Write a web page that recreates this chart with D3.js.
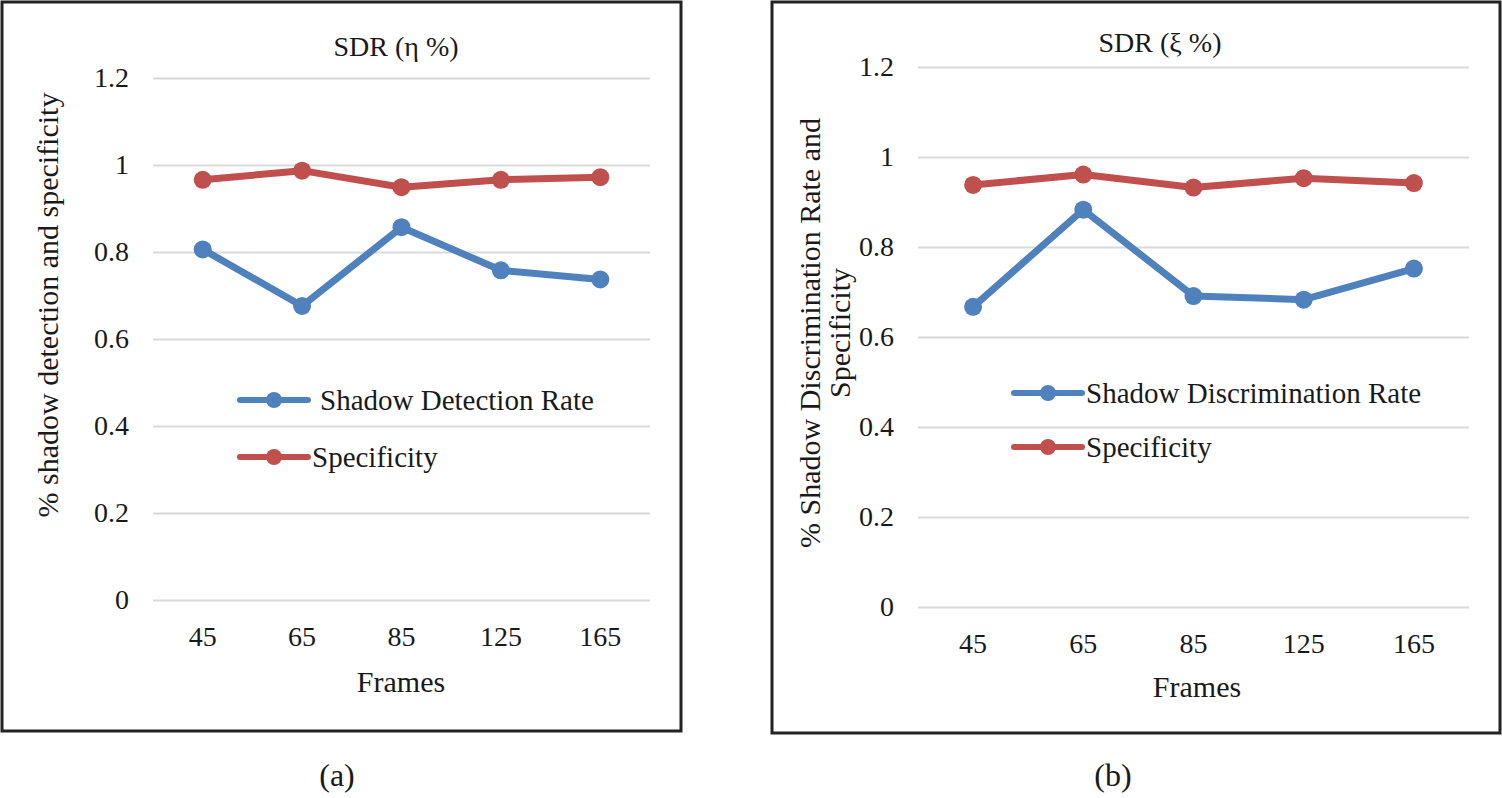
<!DOCTYPE html>
<html lang="en">
  <head>
    <meta charset="UTF-8" />
    <title>SDR charts</title>
    <script src="https://d3js.org/d3.v7.min.js"></script>
    <style>
      body { margin: 0; background: #fff; }
      svg text { font-family: "Liberation Serif", "Times New Roman", serif; fill: #1a1a1a; }
      .gridlines .domain, .ticks .domain { display: none; }
      .gridlines line { stroke: #d9d9d9; stroke-width: 2; }
    </style>
  </head>
  <body>
    <svg id="chart" width="1502" height="798"></svg>
    <script>
      // data
      const frames = ["45", "65", "85", "125", "165"];
      const yTicks = [0, 0.2, 0.4, 0.6, 0.8, 1, 1.2];

      const detectionRate = [0.806, 0.676, 0.857, 0.758, 0.737];
      const specificityA = [0.966, 0.987, 0.949, 0.966, 0.972];

      const discriminationRate = [0.667, 0.883, 0.691, 0.683, 0.752];
      const specificityB = [0.938, 0.961, 0.932, 0.953, 0.942];

      const blue = "#4f81bd";
      const red = "#c0504d";
      const serif = '"Liberation Serif", "Times New Roman", serif';

      const svg = d3.select("#chart");

      function drawPanel(cfg) {
        const g = svg.append("g");

        // frame of the panel
        g.append("rect")
          .attr("x", cfg.box[0])
          .attr("y", cfg.box[1])
          .attr("width", cfg.box[2] - cfg.box[0])
          .attr("height", cfg.box[3] - cfg.box[1])
          .attr("fill", "none")
          .attr("stroke", "#222")
          .attr("stroke-width", 3);

        const xScale = d3.scaleBand().domain(frames).range([cfg.left, cfg.right]);
        const yScale = d3.scaleLinear().domain([0, 1.2]).range([cfg.bottom, cfg.top]);
        const xMid = d => xScale(d) + xScale.bandwidth() / 2;

        g.append("g")
          .attr("class", "gridlines")
          .attr("transform", `translate(${cfg.left},0)`)
          .call(d3.axisLeft(yScale).tickValues(yTicks).tickSize(-(cfg.right - cfg.left)).tickFormat(""));

        g.append("g")
          .attr("class", "ticks")
          .attr("transform", `translate(${cfg.tickX},0)`)
          .call(d3.axisLeft(yScale).tickValues(yTicks).tickSize(0).tickPadding(0).tickFormat(d => String(d)))
          .call(a => a.selectAll("text").style("font-family", serif).style("font-size", "28px").attr("fill", "#1a1a1a"));

        g.append("g")
          .attr("class", "ticks")
          .attr("transform", `translate(0,${cfg.bottom})`)
          .call(d3.axisBottom(xScale).tickSize(0).tickPadding(cfg.xPad))
          .call(a => a.selectAll("text").style("font-family", serif).style("font-size", "28px").attr("fill", "#1a1a1a"));

        const line = d3.line().x((d, i) => xMid(frames[i])).y(d => yScale(d));

        cfg.series.forEach(s => {
          g.append("path")
            .datum(s.values)
            .attr("fill", "none")
            .attr("stroke", s.color)
            .attr("stroke-width", 7)
            .attr("stroke-linejoin", "round")
            .attr("d", line);

          g.selectAll(null)
            .data(s.values)
            .join("circle")
            .attr("cx", (d, i) => xMid(frames[i]))
            .attr("cy", d => yScale(d))
            .attr("r", 9)
            .attr("fill", s.color);
        });

        // legend
        cfg.series.forEach((s, i) => {
          const ly = cfg.legend.y[i];
          g.append("line")
            .attr("x1", cfg.legend.x).attr("x2", cfg.legend.x + 68)
            .attr("y1", ly).attr("y2", ly)
            .attr("stroke", s.color).attr("stroke-width", 6)
            .attr("stroke-linecap", "round");
          g.append("circle")
            .attr("cx", cfg.legend.x + 34).attr("cy", ly)
            .attr("r", 8).attr("fill", s.color);
          g.append("text")
            .attr("x", cfg.legend.textX[i])
            .attr("y", ly)
            .attr("dy", "0.35em")
            .style("font-family", serif)
            .style("font-size", "29px")
            .text(s.name);
        });

        g.append("text")
          .attr("x", cfg.title[0])
          .attr("y", cfg.title[1])
          .attr("text-anchor", "middle")
          .style("font-family", serif)
          .style("font-size", "28px")
          .text(cfg.titleText);

        g.append("text")
          .attr("x", cfg.xTitle[0])
          .attr("y", cfg.xTitle[1])
          .attr("text-anchor", "middle")
          .style("font-family", serif)
          .style("font-size", "30px")
          .text("Frames");

        const yt = g.append("text")
          .attr("transform", `translate(${cfg.yTitle[0]},${cfg.yTitle[1]}) rotate(-90)`)
          .attr("text-anchor", "middle")
          .style("font-family", serif)
          .style("font-size", "30px");
        cfg.yTitleLines.forEach((t, i) => {
          yt.append("tspan").attr("x", 0).attr("dy", i === 0 ? 0 : "1em").text(t);
        });

        g.append("text")
          .attr("x", cfg.caption[0])
          .attr("y", cfg.caption[1])
          .attr("text-anchor", "middle")
          .style("font-family", serif)
          .style("font-size", "32px")
          .text(cfg.captionText);
      }

      drawPanel({
        box: [2, 2, 681, 731],
        left: 153, right: 650, top: 78, bottom: 600,
        tickX: 129, xPad: 26,
        series: [
          { name: "Shadow Detection Rate", values: detectionRate, color: blue },
          { name: "Specificity", values: specificityA, color: red }
        ],
        legend: { x: 240, y: [400, 457], textX: [320, 312] },
        title: [396, 56], titleText: "SDR (\u03B7 %)",
        xTitle: [401, 692],
        yTitle: [58, 305], yTitleLines: ["% shadow detection and specificity"],
        caption: [337, 786], captionText: "(a)"
      });

      drawPanel({
        box: [772, 2, 1500, 733],
        left: 918, right: 1469, top: 67, bottom: 607,
        tickX: 894, xPad: 26,
        series: [
          { name: "Shadow Discrimination Rate", values: discriminationRate, color: blue },
          { name: "Specificity", values: specificityB, color: red }
        ],
        legend: { x: 1014, y: [393, 447], textX: [1086, 1086] },
        title: [1160, 52], titleText: "SDR (\u03BE %)",
        xTitle: [1197, 697],
        yTitle: [820, 333], yTitleLines: ["% Shadow Discrimination Rate and", "Specificity"],
        caption: [1113, 786], captionText: "(b)"
      });
    </script>
  </body>
</html>
